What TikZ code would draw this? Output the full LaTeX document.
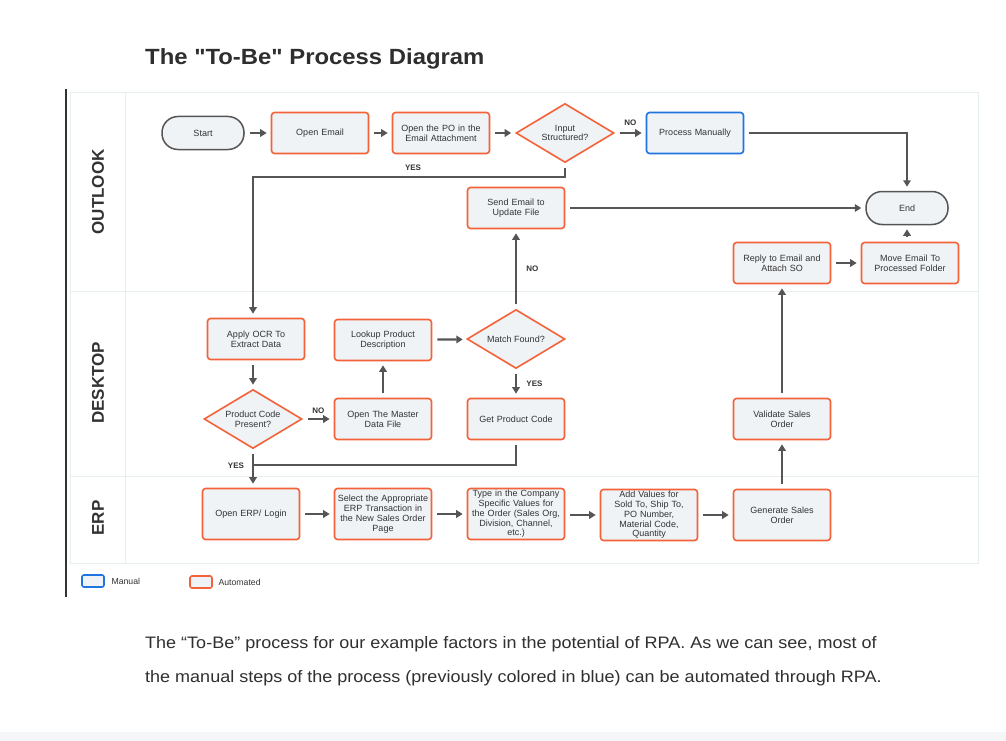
\documentclass[tikz,border=0pt]{standalone}
\usepackage{fontspec}
\setmainfont{Liberation Sans}
\newfontfamily\titlefont{Liberation Sans}[Ligatures=TeXOff]
\usetikzlibrary{shapes.geometric,arrows.meta}
\definecolor{orangec}{HTML}{F4623A}
\definecolor{bluec}{HTML}{1F74E0}
\definecolor{fillc}{HTML}{EFF3F6}
\definecolor{linec}{HTML}{555555}
\definecolor{txtc}{HTML}{333333}
\definecolor{lanec}{HTML}{E6EEF0}
\definecolor{bandc}{HTML}{F5F6F7}
\tikzset{
  boxfont/.style={font=\fontsize{9}{9.8}\selectfont, text=txtc},
  autobox/.style={boxfont, draw=orangec, line width=1.6pt, rounded corners=3pt, fill=fillc,
     minimum width=97pt, minimum height=41pt, align=center, text width=92pt, inner sep=1pt},
  manbox/.style={autobox, draw=bluec},
  term/.style={boxfont, draw=linec, line width=1.5pt, rounded corners=16pt, fill=fillc,
     minimum width=82pt, minimum height=33pt, align=center},
  decide/.style={boxfont, diamond, draw=orangec, line width=1.6pt, fill=fillc, aspect=1.66,
     minimum width=98pt, minimum height=59pt, inner sep=0pt, align=center},
  arr/.style={draw=linec, line width=2.2pt, -{Triangle[length=6.5pt,width=7.5pt]}, shorten <=5pt, shorten >=4pt},
  plain/.style={draw=linec, line width=2.2pt, shorten <=5pt},
  lbl/.style={font=\fontsize{8}{8}\selectfont\bfseries, text=txtc},
  lanelbl/.style={font=\fontsize{17}{17}\selectfont\bfseries, text=txtc, rotate=90},
  legbox/.style={line width=1.6pt, rounded corners=2pt, fill=fillc, minimum width=22pt, minimum height=12pt, inner sep=0pt},
  legtxt/.style={font=\fontsize{8.7}{9}\selectfont, text=txtc, anchor=west},
  captxt/.style={font=\fontsize{16.6}{16}\selectfont, text=txtc!95!black, anchor=base west, inner sep=0pt},
}
\begin{document}
\begin{tikzpicture}[x=1pt,y=-1pt]
\useasboundingbox (0,0) rectangle (1006,741);
\fill[white] (0,0) rectangle (1006,741);
\fill[bandc] (0,732) rectangle (1006,741);
% title
\node[anchor=base west, inner sep=0pt, text=txtc!90!black] (title) at (145,65)
  {\titlefont\fontsize{22}{22}\selectfont\bfseries\scalebox{1.085}[1]{The "To-Be" Process Diagram}};
% frame
\draw[black!80, line width=1.2pt] (66,89) -- (66,597);
\draw[lanec, line width=1pt] (70,93) rectangle (978,563);
\draw[lanec, line width=1pt] (70,291) -- (978,291);
\draw[lanec, line width=1pt] (70,476) -- (978,476);
\draw[lanec, line width=1pt] (125,93) -- (125,563);
\node[lanelbl] (l1) at (98,192) {OUTLOOK};
\node[lanelbl] (l2) at (98,383) {DESKTOP};
\node[lanelbl] (l3) at (98,518) {ERP};
% outlook nodes
\node[term] (start) at (203,133) {Start};
\node[autobox] (openemail) at (320,133) {Open Email};
\node[autobox] (openpo) at (441,133) {Open the PO in the\\Email Attachment};
\node[decide] (input) at (565,133) {Input\\Structured?};
\node[manbox] (procman) at (695,133) {Process Manually};
\node[term] (end) at (907,208) {End};
\node[autobox] (send) at (516,208) {Send Email to\\Update File};
\node[autobox] (reply) at (782,263) {Reply to Email and\\Attach SO};
\node[autobox] (move) at (910,263) {Move Email To\\Processed Folder};
% desktop nodes
\node[autobox] (ocr) at (256,339) {Apply OCR To\\Extract Data};
\node[autobox] (lookup) at (383,340) {Lookup Product\\Description};
\node[decide] (match) at (516,339) {Match Found?};
\node[decide] (pcp) at (253,419) {Product Code\\Present?};
\node[autobox] (master) at (383,419) {Open The Master\\Data File};
\node[autobox] (getcode) at (516,419) {Get Product Code};
\node[autobox] (validate) at (782,419) {Validate Sales\\Order};
% erp nodes
\node[autobox, minimum height=51pt] (erp) at (251,514) {Open ERP/ Login};
\node[autobox, minimum height=51pt] (select) at (383,514) {Select the Appropriate\\ERP Transaction in\\the New Sales Order\\Page};
\node[autobox, minimum height=51pt] (type) at (516,514) {Type in the Company\\Specific Values for\\the Order (Sales Org,\\Division, Channel,\\etc.)};
\node[autobox, minimum height=51pt] (add) at (649,515) {Add Values for\\Sold To, Ship To,\\PO Number,\\Material Code,\\Quantity};
\node[autobox, minimum height=51pt] (gen) at (782,515) {Generate Sales\\Order};
% connectors outlook
\draw[arr] (start) -- (openemail);
\draw[arr] (openemail) -- (openpo);
\draw[arr] (openpo) -- (input);
\draw[arr] (input) -- node[lbl, above=3pt] {NO} (procman);
\draw[arr] (procman.east) -| (end.north);
\coordinate (yesturn) at (565,177);
\draw[arr] (input.south) -- (yesturn) -| (pcp.north |- ocr.north);
\node[lbl] (yeslbl) at (413,168) {YES};
\draw[arr] (send) -- (end);
\draw[arr] (match.north) -- node[lbl, right=6pt] {NO} (send.south);
\draw[arr] (reply) -- (move);
\draw[arr] (move.north -| end.south) -- (end.south);
\draw[arr] (validate) -- (reply);
% desktop connectors
\draw[arr] (lookup) -- (match);
\draw[arr] (pcp.north |- ocr.south) -- (pcp.north);
\draw[arr] (pcp) -- node[lbl, above=1pt] {NO} (master);
\draw[arr] (master) -- (lookup);
\draw[arr] (match) -- node[lbl, right=6pt] {YES} (getcode);
\coordinate (join) at (253,465);
\draw[plain] (getcode.south) |- (join);
\draw[arr] (pcp.south) -- (pcp.south |- erp.north);
\node[lbl] (yes2) at (236,466) {YES};
% erp connectors
\draw[arr] (erp) -- (select);
\draw[arr] (select) -- (type);
\draw[arr] (type.east |- add.west) -- (add.west);
\draw[arr] (add) -- (gen);
\draw[arr] (gen) -- (validate);
% legend
\node[legbox, draw=bluec] (legman) at (93,581) {};
\node[legtxt] (legmant) at (108,581) {Manual};
\node[legbox, draw=orangec] (legauto) at (201,582) {};
\node[legtxt] (legautot) at (215,582) {Automated};
% caption
\node[captxt] (cap1) at (145,648) {\scalebox{1.085}[1]{The “To-Be” process for our example factors in the potential of RPA. As we can see, most of}};
\node[captxt] (cap2) at (145,682) {\scalebox{1.085}[1]{the manual steps of the process (previously colored in blue) can be automated through RPA.}};
\end{tikzpicture}
\end{document}
